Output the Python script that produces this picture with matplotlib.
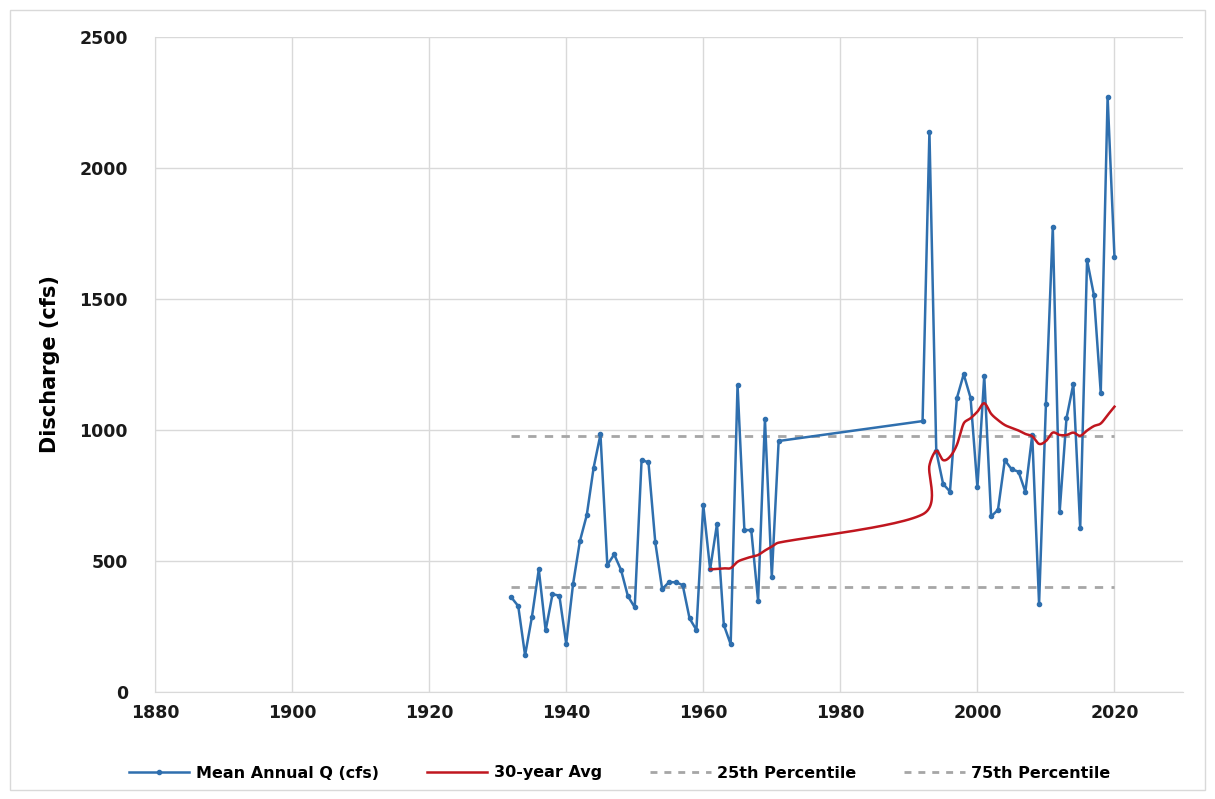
"""
Mean annual discharge with 30-year running average and percentile lines.
"""

import numpy as np
import matplotlib
matplotlib.use("Agg")
import matplotlib.pyplot as plt
from matplotlib.patches import Rectangle
from matplotlib.lines import Line2D

# annual mean discharge (cfs); record has a gap 1972-1991
years = [1932, 1933, 1934, 1935, 1936, 1937, 1938, 1939, 1940, 1941,
         1942, 1943, 1944, 1945, 1946, 1947, 1948, 1949, 1950, 1951,
         1952, 1953, 1954, 1955, 1956, 1957, 1958, 1959, 1960, 1961,
         1962, 1963, 1964, 1965, 1966, 1967, 1968, 1969, 1970, 1971,
         1992, 1993, 1994, 1995, 1996, 1997, 1998, 1999, 2000, 2001,
         2002, 2003, 2004, 2005, 2006, 2007, 2008, 2009, 2010, 2011,
         2012, 2013, 2014, 2015, 2016, 2017, 2018, 2019, 2020]
mean_q = [361, 328, 140, 287, 468, 235, 373, 368, 185, 412,
          576, 675, 856, 983, 485, 525, 466, 366, 323, 885,
          877, 571, 393, 419, 419, 408, 281, 237, 714, 468,
          641, 256, 182, 1172, 618, 618, 349, 1041, 440, 958,
          1034, 2139, 918, 794, 765, 1121, 1213, 1123, 781, 1207,
          670, 695, 885, 850, 841, 764, 981, 336, 1099, 1776,
          687, 1045, 1176, 625, 1649, 1515, 1143, 2272, 1661]

# 30-year running average (starts once 30 years are available)
avg_years = [1961, 1962, 1963, 1964, 1965, 1966, 1967, 1968, 1969, 1970,
             1971, 1992, 1993, 1994, 1995, 1996, 1997, 1998, 1999, 2000,
             2001, 2002, 2003, 2004, 2005, 2006, 2007, 2008, 2009, 2010,
             2011, 2012, 2013, 2014, 2015, 2016, 2017, 2018, 2019, 2020]
avg_q = [468, 470, 472, 473, 497, 508, 516, 523, 540, 555,
         570, 678, 865, 920, 885, 898, 943, 1025, 1045, 1070,
         1102, 1062, 1038, 1019, 1008, 998, 985, 976, 947, 958,
         990, 981, 981, 990, 978, 998, 1015, 1025, 1057, 1089]

pct_years = [1932, 2020]
p25 = 402
p75 = 977

BLUE = "#2f6fae"
RED = "#c0161f"
GRAY = "#a6a6a6"
GRID = "#d9d9d9"


def smooth_line(xs, ys, sx, sy, n=30):
    # Excel-style smoothed line: Catmull-Rom turned into Beziers, computed in
    # screen-like units; handle length capped so long gaps don't loop
    P = np.column_stack([np.asarray(xs, float) * sx, np.asarray(ys, float) * sy])
    t = np.linspace(0, 1, n)[:, None]

    def cap(v, seg):
        lim = np.linalg.norm(seg) / 2.5
        L = np.linalg.norm(v)
        return v if L <= lim or L == 0 else v * lim / L

    out = []
    for i in range(len(P) - 1):
        p0 = P[i - 1] if i > 0 else P[i]
        p1, p2 = P[i], P[i + 1]
        p3 = P[i + 2] if i + 2 < len(P) else P[i + 1]
        c1 = p1 + cap((p2 - p0) / 6.0, p2 - p1)
        c2 = p2 - cap((p3 - p1) / 6.0, p2 - p1)
        seg = ((1 - t) ** 3) * p1 + 3 * ((1 - t) ** 2) * t * c1 \
            + 3 * (1 - t) * t ** 2 * c2 + t ** 3 * p2
        out.append(seg if i == 0 else seg[1:])
    out = np.vstack(out)
    return out[:, 0] / sx, out[:, 1] / sy


fig = plt.figure(figsize=(12.15, 7.99), dpi=100)
ax = fig.add_axes([155 / 1215, 1 - 692 / 799, (1183 - 155) / 1215, (692 - 37) / 799])

# chart border
fig.patches.append(Rectangle((10 / 1215, 9 / 799), 1195 / 1215, 780 / 799,
                             transform=fig.transFigure, fill=False,
                             edgecolor="#d9d9d9", linewidth=1))

ax.plot(years, mean_q, color=BLUE, linewidth=1.8, marker="o", markersize=3,
        label="Mean Annual Q (cfs)", zorder=3)
sx_, sy_ = smooth_line(avg_years, avg_q, 6.85, 0.262)
ax.plot(sx_, sy_, color=RED, linewidth=1.8, label="30-year Avg", zorder=4)
ax.plot(pct_years, [p25, p25], color=GRAY, linewidth=2, dashes=(3, 3),
        label="25th Percentile", zorder=2)
ax.plot(pct_years, [p75, p75], color=GRAY, linewidth=2, dashes=(3, 3),
        label="75th Percentile", zorder=2)

ax.set_xlim(1880, 2030)
ax.set_ylim(0, 2500)
ax.set_xticks(range(1880, 2021, 20))
ax.set_yticks(range(0, 2501, 500))
ax.grid(True, color=GRID, linewidth=1)
ax.set_axisbelow(True)
for s in ["top", "right"]:
    ax.spines[s].set_visible(False)
ax.spines["left"].set_color(GRID)
ax.spines["bottom"].set_color(GRID)
ax.tick_params(length=0, labelsize=12.5, colors="#1a1a1a")
ax.tick_params(axis="y", pad=19.5)
ax.tick_params(axis="x", pad=9)
for lab in ax.get_xticklabels() + ax.get_yticklabels():
    lab.set_fontweight("bold")
ax.set_ylabel("Discharge (cfs)", fontsize=15, fontweight="bold")
ax.yaxis.set_label_coords(-0.092, 0.5)

handles = [
    Line2D([], [], color=BLUE, linewidth=1.8, marker="o", markersize=3),
    Line2D([], [], color=RED, linewidth=1.8),
    Line2D([], [], color=GRAY, linewidth=2, dashes=(2.5, 2.5)),
    Line2D([], [], color=GRAY, linewidth=2, dashes=(2.5, 2.5)),
]
labels = ["Mean Annual Q (cfs)", "30-year Avg", "25th Percentile", "75th Percentile"]
fig.legend(handles, labels, loc="center", bbox_to_anchor=(0.510, 1 - 773 / 799),
           ncol=4, frameon=False, handlelength=3.8, handletextpad=0.4,
           columnspacing=3.0, prop={"size": 11.5, "weight": "bold"})

fig.savefig("out.png", dpi=100)
